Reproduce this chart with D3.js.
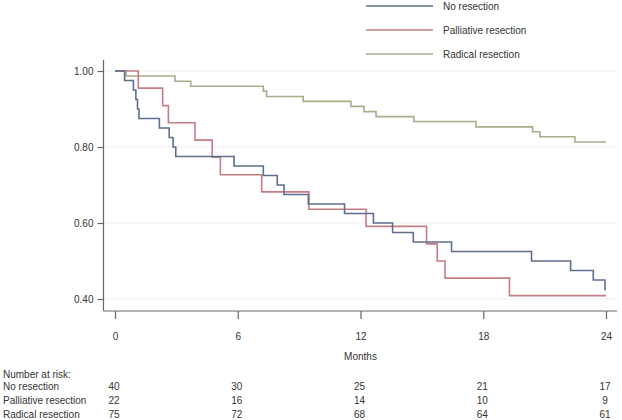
<!DOCTYPE html>
<html>
<head>
<meta charset="utf-8">
<script src="https://cdn.jsdelivr.net/npm/d3@7/dist/d3.min.js"></script>
<style>
  html, body { margin: 0; padding: 0; background: #fff; }
  svg { display: block; }
  text { font-family: "Liberation Sans", Arial, sans-serif; font-size: 10px; fill: #333; }
</style>
</head>
<body>
<svg id="chart" width="622" height="420"></svg>
<script>
// ---- Data ----
const seriesNames = ["No resection", "Palliative resection", "Radical resection"];

// event times (months) and survival after each event
const noResTimes = [0.47, 0.9, 1.02, 1.1, 1.17, 2.17, 2.65, 2.84, 2.97, 5.82, 7.25, 7.93, 8.26, 9.45, 11.22, 12.63, 13.57, 14.58, 16.45, 20.36, 22.27, 23.38, 23.95];
const noResSurv  = [0.975, 0.95, 0.925, 0.9, 0.875, 0.85, 0.825, 0.8, 0.775, 0.75, 0.725, 0.7, 0.675, 0.65, 0.625, 0.6, 0.575, 0.55, 0.525, 0.5, 0.475, 0.45, 0.425];

const palTimes = [1.14, 2.33, 2.61, 3.91, 4.75, 5.15, 7.17, 9.48, 12.27, 15.23, 15.75, 16.13, 19.28];
const palSurv  = [0.955, 0.909, 0.864, 0.818, 0.773, 0.727, 0.682, 0.636, 0.591, 0.545, 0.5, 0.455, 0.409];

const radTimes = [0.54, 2.93, 3.70, 7.25, 7.41, 9.20, 11.53, 12.17, 12.76, 14.61, 17.64, 20.41, 20.77, 22.48];
const radSurv  = [0.987, 0.973, 0.96, 0.947, 0.933, 0.92, 0.907, 0.893, 0.88, 0.867, 0.853, 0.84, 0.827, 0.813];

const xTicks = [0, 6, 12, 18, 24];
const yTicks = [0.4, 0.6, 0.8, 1.0];

const riskLabels = ["No resection", "Palliative resection", "Radical resection"];
const riskNoRes = [40, 30, 25, 21, 17];
const riskPal   = [22, 16, 14, 10, 9];
const riskRad   = [75, 72, 68, 64, 61];

const colors = ["#5f6e8e", "#c57d84", "#a6ad88"];

// ---- Chart ----
const svg = d3.select("#chart");
const x = d3.scaleLinear().domain([0, 24]).range([115, 606]);
const y = d3.scaleLinear().domain([0.4, 1.0]).range([299, 71]);

const axisLeftX = 103.5, axisBottomY = 311, axisTopY = 60, axisRightX = 617;

// faint gridlines
svg.append("g").selectAll("line").data(yTicks).join("line")
  .attr("x1", axisLeftX).attr("x2", axisRightX)
  .attr("y1", d => y(d)).attr("y2", d => y(d))
  .attr("stroke", "#efefef").attr("stroke-width", 1);

// axes
const yAxis = d3.axisLeft(y).tickValues(yTicks).tickFormat(d3.format(".2f")).tickSize(6).tickPadding(4);
const gy = svg.append("g").attr("transform", `translate(${axisLeftX},0)`).call(yAxis);
gy.select(".domain").remove();
gy.append("line").attr("x1", 0).attr("x2", 0).attr("y1", axisTopY).attr("y2", axisBottomY)
  .attr("stroke", "#666").attr("stroke-width", 1.2);
gy.selectAll(".tick line").attr("stroke", "#666").attr("stroke-width", 1.2);
gy.selectAll(".tick text").attr("fill", "#333").style("font-size", "10px");

const xAxis = d3.axisBottom(x).tickValues(xTicks).tickFormat(d3.format("d")).tickSize(8).tickPadding(14);
const gx = svg.append("g").attr("transform", `translate(0,${axisBottomY})`).call(xAxis);
gx.select(".domain").remove();
gx.append("line").attr("x1", axisLeftX).attr("x2", axisRightX).attr("y1", 0).attr("y2", 0)
  .attr("stroke", "#666").attr("stroke-width", 1.2);
gx.selectAll(".tick line").attr("stroke", "#666").attr("stroke-width", 1.2);
gx.selectAll(".tick text").attr("fill", "#333").style("font-size", "10px");

// step curves
function pts(times, surv) {
  const p = [[0, 1]];
  times.forEach((t, i) => p.push([t, surv[i]]));
  p.push([24, surv[surv.length - 1]]);
  return p;
}
const line = d3.line().x(d => x(d[0])).y(d => y(d[1])).curve(d3.curveStepAfter);
const curves = [pts(noResTimes, noResSurv), pts(palTimes, palSurv), pts(radTimes, radSurv)];
// draw green first, then red, then blue on top
[2, 1, 0].forEach(i => {
  svg.append("path").attr("d", line(curves[i]))
    .attr("fill", "none").attr("stroke", colors[i]).attr("stroke-width", 1.6);
});

// legend
const legY = [6, 30, 54];
seriesNames.forEach((n, i) => {
  svg.append("line").attr("x1", 366).attr("x2", 433).attr("y1", legY[i]).attr("y2", legY[i])
    .attr("stroke", colors[i]).attr("stroke-width", 1.6);
  svg.append("text").attr("x", 443).attr("y", legY[i] + 3.5).text(n);
});

// x axis title
svg.append("text").attr("x", x(12)).attr("y", 360).attr("text-anchor", "middle").text("Months");

// number at risk
svg.append("text").attr("x", 3).attr("y", 377.5).text("Number at risk:");
const riskRows = [riskNoRes, riskPal, riskRad];
const rowY = [390, 404, 417.5];
riskLabels.forEach((lab, i) => {
  svg.append("text").attr("x", 3).attr("y", rowY[i]).text(lab);
  svg.append("g").selectAll("text").data(riskRows[i]).join("text")
    .attr("x", (d, j) => x(xTicks[j]) - 1)
    .attr("y", rowY[i]).attr("text-anchor", "middle").text(d => d);
});
</script>
</body>
</html>
